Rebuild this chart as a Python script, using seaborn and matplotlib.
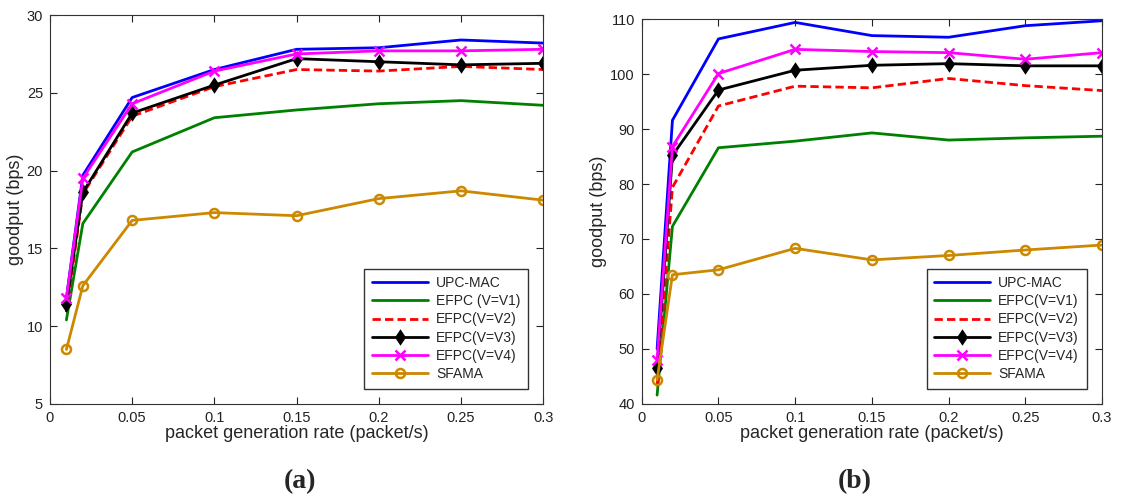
import matplotlib
matplotlib.use("Agg")
import matplotlib.pyplot as plt
import seaborn as sns
import pandas as pd

rates = [0.01, 0.02, 0.05, 0.1, 0.15, 0.2, 0.25, 0.3]

# panel (a)
a_upc = [11.8, 19.7, 24.7, 26.5, 27.8, 27.9, 28.4, 28.2]
a_v1 = [10.4, 16.6, 21.2, 23.4, 23.9, 24.3, 24.5, 24.2]
a_v2 = [10.9, 18.5, 23.5, 25.4, 26.5, 26.4, 26.7, 26.5]
a_v3 = [11.4, 18.6, 23.7, 25.5, 27.2, 27.0, 26.8, 26.9]
a_v4 = [11.8, 19.5, 24.3, 26.4, 27.5, 27.7, 27.7, 27.8]
a_sfama = [8.5, 12.6, 16.8, 17.3, 17.1, 18.2, 18.7, 18.1]

# panel (b)
b_upc = [50.0, 91.6, 106.4, 109.4, 107.0, 106.7, 108.8, 109.7]
b_v1 = [41.6, 72.3, 86.6, 87.8, 89.3, 88.0, 88.4, 88.7]
b_v2 = [43.2, 79.4, 94.2, 97.8, 97.5, 99.2, 97.9, 97.0]
b_v3 = [46.5, 85.2, 97.1, 100.7, 101.6, 101.9, 101.5, 101.5]
b_v4 = [48.0, 86.8, 100.1, 104.5, 104.1, 103.9, 102.7, 103.9]
b_sfama = [44.4, 63.5, 64.4, 68.3, 66.2, 67.0, 68.0, 68.9]

labels_a = ["UPC-MAC", "EFPC (V=V1)", "EFPC(V=V2)", "EFPC(V=V3)", "EFPC(V=V4)", "SFAMA"]
labels_b = ["UPC-MAC", "EFPC(V=V1)", "EFPC(V=V2)", "EFPC(V=V3)", "EFPC(V=V4)", "SFAMA"]
xticks = [0, 0.05, 0.1, 0.15, 0.2, 0.25, 0.3]
xtick_labels = ["0", "0.05", "0.1", "0.15", "0.2", "0.25", "0.3"]
yticks_a = [5, 10, 15, 20, 25, 30]
yticks_b = [40, 50, 60, 70, 80, 90, 100, 110]

sns.set_theme(style="ticks")
plt.rcParams['font.family'] = ['Liberation Sans', 'DejaVu Sans']

colors = ["#0000ff", "#008000", "#ff0000", "#000000", "#ff00ff", "#cc8800"]
linestyles = ["-", "-", (0, (3, 1.5)), "-", "-", "-"]
markers = [None, None, None, "d", "x", "o"]
facecolors = [None, None, None, "#000000", None, "none"]
msizes = [0, 0, 0, 6.5, 7, 6.5]


def draw(ax, series, labels, yticks, ylim):
    for vals, lab, c, ls, m, fc, ms in zip(series, labels, colors, linestyles, markers,
                                           facecolors, msizes):
        df = pd.DataFrame({"rate": rates, "goodput": vals})
        kw = dict(color=c, linestyle=ls, linewidth=2)
        if m is not None:
            kw.update(marker=m, markersize=ms, markeredgecolor=c, markeredgewidth=1.8,
                      markerfacecolor=(fc if fc else c))
        sns.lineplot(data=df, x="rate", y="goodput", ax=ax, label=lab, **kw)
    ax.set_xlim(0, 0.3)
    ax.set_ylim(*ylim)
    ax.set_xticks(xticks)
    ax.set_xticklabels(xtick_labels)
    ax.set_yticks(yticks)
    ax.tick_params(direction="in", top=True, right=True, labelsize=10.5, length=5, width=0.8,
                   colors="#222222", pad=5)
    for s in ax.spines.values():
        s.set_color("#333333")
        s.set_linewidth(0.8)
    ax.set_xlabel("packet generation rate (packet/s)", fontsize=13, labelpad=0)
    ax.set_ylabel("goodput (bps)", fontsize=13, labelpad=2)
    leg = ax.legend(loc="lower right", fontsize=10, frameon=True, fancybox=False,
                    edgecolor="black", handlelength=4.0, borderaxespad=1.1,
                    labelspacing=0.3, borderpad=0.55, handletextpad=0.6)
    leg.get_frame().set_linewidth(1.0)


fig = plt.figure(figsize=(11.46, 5.03), dpi=100)
ax_a = fig.add_axes([0.0436, 0.197, 0.4304, 0.773])
ax_b = fig.add_axes([0.560, 0.197, 0.4016, 0.765])

draw(ax_a, [a_upc, a_v1, a_v2, a_v3, a_v4, a_sfama], labels_a, yticks_a, (5, 30))
draw(ax_b, [b_upc, b_v1, b_v2, b_v3, b_v4, b_sfama], labels_b, yticks_b, (40, 110))

fig.text(0.262, 0.03, "(a)", fontsize=20, fontweight="bold", family="Liberation Serif",
         ha="center")
fig.text(0.746, 0.03, "(b)", fontsize=20, fontweight="bold", family="Liberation Serif",
         ha="center")

fig.savefig("out.png", dpi=100)
